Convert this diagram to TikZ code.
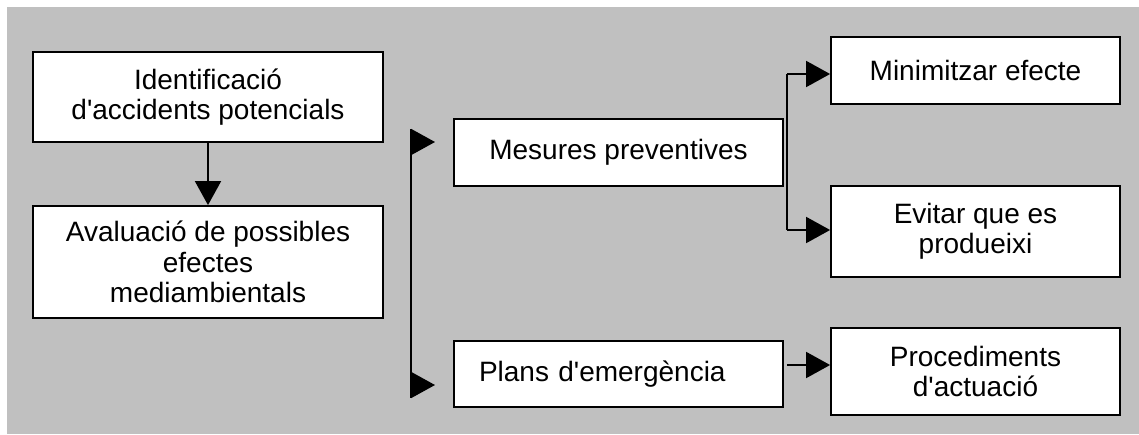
\documentclass[tikz,border=0pt]{standalone}
\usepackage{fontspec}
\setmainfont{Liberation Sans}[Ligatures=TeXOff]
\usetikzlibrary{arrows.meta}
\definecolor{bggray}{RGB}{192,192,192}
\begin{document}
\begin{tikzpicture}[x=1pt,y=-1pt,
  box/.style={draw=black,fill=white,line width=1.8pt,inner sep=0pt,align=center,
    font=\fontsize{28}{30.5}\selectfont},
  conn/.style={line width=1.8pt,draw=black},
  arr/.style={conn,-{Triangle[length=24pt,width=26pt]}}]
\useasboundingbox (0,0) rectangle (1139,434);
\fill[bggray] (7,7) rectangle (1139,434);
% left column
\node[box,minimum width=350pt,minimum height=90pt] (ident) at (208,97) {Identificació\\d'accidents potencials};
\node[box,minimum width=350pt,minimum height=112pt] (aval) at (208,262) {Avaluació de possibles\\efectes\\mediambientals};
\draw[arr] (ident.south) -- (aval.north);
% middle column
\node[box,minimum width=329pt,minimum height=67pt] (mesures) at (618.5,152.5) {Mesures preventives};
\node[box,minimum width=329pt,minimum height=66pt,text width=279pt,inner xsep=25pt,align=left] (plans) at (618.5,374) {Plans d'emergència};
% bracket
\coordinate (bt) at (411,129);
\coordinate (bb) at (411,398);
\coordinate (b1) at (411,142);
\coordinate (b2) at (411,385);
\coordinate (t1) at (435,142);
\coordinate (t2) at (435,385);
\draw[conn] (bt) -- (bb);
\draw[arr] (b1) -- (t1);
\draw[arr] (b2) -- (t2);
% right column
\node[box,minimum width=289pt,minimum height=67pt] (minim) at (975.5,70.5) {Minimitzar efecte};
\node[box,minimum width=289pt,minimum height=91pt] (evitar) at (975.5,231.5) {Evitar que es\\produeixi};
\node[box,minimum width=289pt,minimum height=87pt] (proced) at (975.5,371.5) {Procediments\\d'actuació};
\coordinate (r1) at (787,74);
\coordinate (r2) at (787,230);
\coordinate (r3) at (787,365);
\draw[conn] (r1) -- (r2);
\draw[arr] (r1) -- (r1 -| minim.west);
\draw[arr] (r2) -- (r2 -| evitar.west);
\draw[arr] (r3) -- (r3 -| proced.west);
\end{tikzpicture}
\end{document}
